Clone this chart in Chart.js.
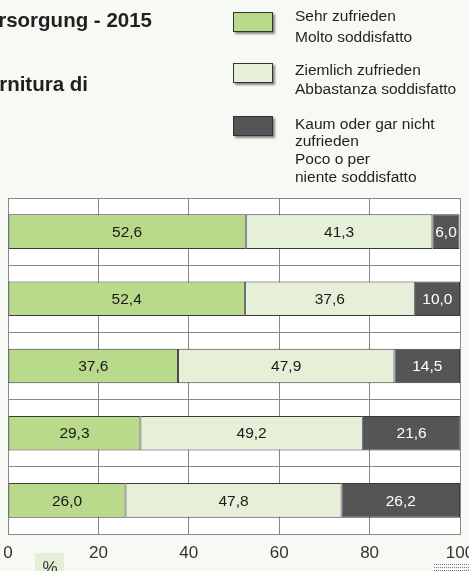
<!DOCTYPE html>
<html lang="de">
<head>
    <meta charset="UTF-8">
    <title>Versorgung - 2015</title>
    <script src="https://cdn.jsdelivr.net/npm/chart.js"></script>
    <style>
        body { margin: 0; background: #f7f9f4; overflow: hidden; }
        canvas { display: block; }
    </style>
</head>
<body>
    <canvas id="chart" width="469" height="571"></canvas>

    <script>
        // Daten / dati
        const categories = ["1", "2", "3", "4", "5"];
        const sehrZufrieden = [52.6, 52.4, 37.6, 29.3, 26.0];
        const ziemlichZufrieden = [41.3, 37.6, 47.9, 49.2, 47.8];
        const kaumZufrieden = [6.0, 10.0, 14.5, 21.6, 26.2];
        const xTicks = [0, 20, 40, 60, 80, 100];

        const legendLabels = [
            ["Sehr zufrieden", "Molto soddisfatto"],
            ["Ziemlich zufrieden", "Abbastanza soddisfatto"],
            ["Kaum oder gar nicht", "zufrieden", "Poco o per", "niente soddisfatto"]
        ];
        const titleLines = ["Versorgung - 2015", "fornitura di"];
        const unitLabel = "%";

        const FONT = '"Liberation Sans", Arial, sans-serif';
        const colors = ["#b9d98b", "#e6f0d8", "#555557"];
        const labelColors = ["#1a1a1a", "#1a1a1a", "#ffffff"];

        // weisser Hintergrund der Zeichenfläche
        const plotBg = {
            id: "plotBg",
            beforeDraw(chart) {
                const { ctx, chartArea: a } = chart;
                ctx.save();
                ctx.fillStyle = "#ffffff";
                ctx.fillRect(a.left, a.top, a.right - a.left, a.bottom - a.top);
                ctx.restore();
            }
        };

        // Werte in den Balken
        const valueLabels = {
            id: "valueLabels",
            afterDatasetsDraw(chart) {
                const ctx = chart.ctx;
                ctx.save();
                ctx.font = "15.5px " + FONT;
                ctx.textAlign = "center";
                ctx.textBaseline = "middle";
                chart.data.datasets.forEach((ds, i) => {
                    chart.getDatasetMeta(i).data.forEach((bar, j) => {
                        const x = (bar.x + bar.base) / 2;
                        ctx.fillStyle = labelColors[i];
                        ctx.fillText(ds.data[j].toFixed(1).replace(".", ","), x, bar.y + 1);
                    });
                });
                ctx.restore();
            }
        };

        // Titel, Legende, Einheit
        const extras = {
            id: "extras",
            afterDraw(chart) {
                const ctx = chart.ctx;
                ctx.save();
                ctx.fillStyle = "#231f20";
                ctx.font = "bold 20.5px " + FONT;
                ctx.textAlign = "right";
                ctx.textBaseline = "alphabetic";
                ctx.fillText(titleLines[0], 152, 27);
                ctx.fillText(titleLines[1], 88, 91);

                const boxY = [12, 63, 116];
                const firstBase = [21, 75, 128.5];
                const lineGap = [20.5, 19, 17.7];
                ctx.textAlign = "left";
                ctx.font = "15.5px " + FONT;
                legendLabels.forEach((lines, i) => {
                    ctx.save();
                    ctx.shadowColor = "rgba(0,0,0,0.45)";
                    ctx.shadowOffsetX = 2;
                    ctx.shadowOffsetY = 2;
                    ctx.shadowBlur = 2;
                    ctx.fillStyle = colors[i];
                    ctx.fillRect(233, boxY[i], 40, 20);
                    ctx.restore();
                    ctx.strokeStyle = "#333";
                    ctx.lineWidth = 1;
                    ctx.strokeRect(233.5, boxY[i] + 0.5, 39, 19);
                    ctx.fillStyle = "#231f20";
                    lines.forEach((t, k) => ctx.fillText(t, 295, firstBase[i] + k * lineGap[i]));
                });

                // Einheit
                ctx.fillStyle = "#e4efd5";
                ctx.fillRect(35, 553, 29, 18);
                ctx.fillStyle = "#333";
                ctx.font = "17px " + FONT;
                ctx.textAlign = "center";
                ctx.fillText(unitLabel, 50, 573);

                // gepunktete Linie unten rechts
                ctx.strokeStyle = "#777";
                ctx.setLineDash([1, 1]);
                [564.5, 567.5, 570.5].forEach(y => {
                    ctx.beginPath();
                    ctx.moveTo(434, y);
                    ctx.lineTo(469, y);
                    ctx.stroke();
                });
                ctx.restore();
            }
        };

        const mkSet = (label, data, i) => ({
            label: label.join(" "),
            data: data,
            backgroundColor: colors[i],
            borderColor: "#3a3a3a",
            borderWidth: 1,
            borderSkipped: false,
            barPercentage: 0.515,
            categoryPercentage: 1
        });

        new Chart(document.getElementById("chart"), {
            type: "bar",
            data: {
                labels: categories,
                datasets: [
                    mkSet(legendLabels[0], sehrZufrieden, 0),
                    mkSet(legendLabels[1], ziemlichZufrieden, 1),
                    mkSet(legendLabels[2], kaumZufrieden, 2)
                ]
            },
            options: {
                indexAxis: "y",
                responsive: false,
                animation: false,
                layout: { padding: { left: 8, right: 9, top: 198, bottom: 7 } },
                plugins: {
                    legend: { display: false },
                    tooltip: { enabled: false }
                },
                scales: {
                    x: {
                        stacked: true,
                        min: 0,
                        max: 100,
                        afterBuildTicks: s => { s.ticks = xTicks.map(v => ({ value: v })); },
                        afterFit: s => { s.paddingLeft = 0; s.paddingRight = 0; s.height = 30; },
                        grid: { color: "#888", lineWidth: 1, drawTicks: false },
                        border: { color: "#888" },
                        ticks: {
                            padding: 9,
                            maxRotation: 0,
                            color: "#333",
                            font: { family: FONT, size: 17 }
                        }
                    },
                    y: {
                        stacked: true,
                        grid: { color: "#888", lineWidth: 1, drawTicks: false, offset: true },
                        border: { color: "#888" },
                        ticks: { display: false }
                    }
                }
            },
            plugins: [plotBg, valueLabels, extras]
        });
    </script>
</body>
</html>
